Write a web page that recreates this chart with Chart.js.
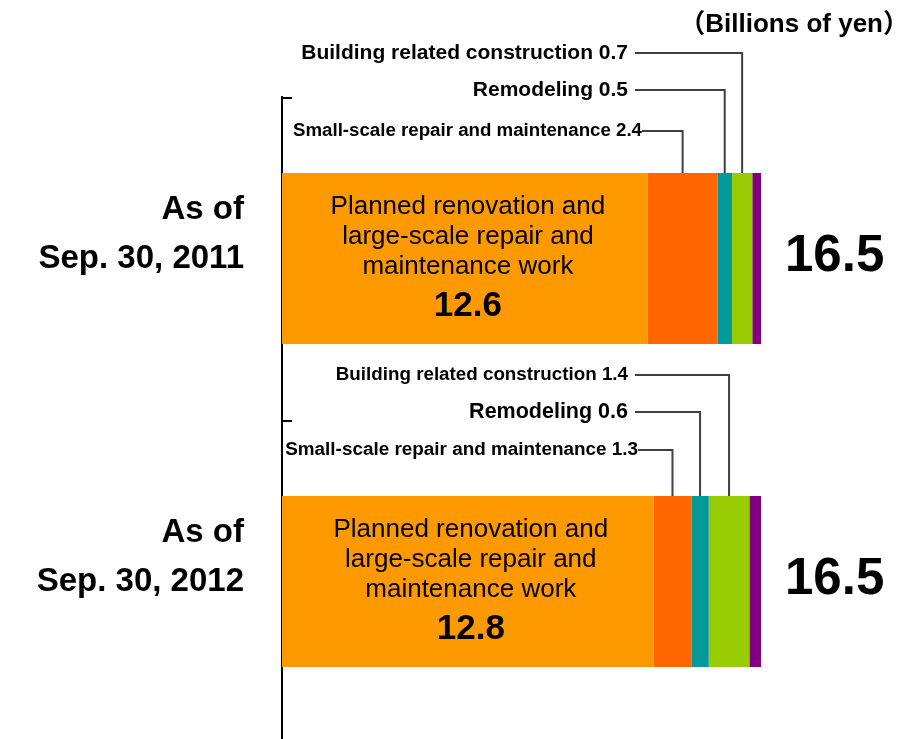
<!DOCTYPE html>
<html lang="en">
<head>
  <meta charset="UTF-8">
  <title>Order backlog by type of work</title>
  <style>
    body {
      margin: 0;
      background: #fff;
    }
    #wrap {
      position: relative;
      width: 903px;
      height: 739px;
      overflow: hidden;
    }
    .unit {
      position: absolute;
      right: -6px;
      top: 2px;
      line-height: 1;
      font: bold 26px 'Liberation Sans', 'Noto Sans CJK JP', Arial, sans-serif;
      color: #000;
      white-space: nowrap;
    }
  </style>
</head>
<body>
  <div id="wrap">
    <!-- the axis runs on past the bottom edge -->
    <canvas id="chart" width="903" height="743"></canvas>
    <div class="unit">（Billions of yen）</div>
  </div>

  <script src="https://cdn.jsdelivr.net/npm/chart.js"></script>
  <script>
    // billions of yen
    const periods = [['As of', 'Sep. 30, 2011'], ['As of', 'Sep. 30, 2012']];
    const planned = [12.6, 12.8];
    const smallScale = [2.4, 1.3];
    const remodeling = [0.5, 0.6];
    const building = [0.7, 1.4];
    const other = [0.3, 0.4];
    const totals = [16.5, 16.5];

    const FONT = "'Liberation Sans', Arial, sans-serif";

    // labels with leader lines above each bar: [text, series, offset above bar, font size, right edge, line start]
    const callouts = [
      [
        ['Building related construction 0.7', 3, 120, 21, 628, 635],
        ['Remodeling 0.5', 2, 83, 21, 628, 635],
        ['Small-scale repair and maintenance 2.4', 1, 42, 18.7, 642, 642]
      ],
      [
        ['Building related construction 1.4', 3, 121, 18.8, 628, 635],
        ['Remodeling 0.6', 2, 84, 21.5, 628, 635],
        ['Small-scale repair and maintenance 1.3', 1, 46, 18.9, 638, 638]
      ]
    ];

    const series = [planned, smallScale, remodeling, building, other];

    const annotate = {
      id: 'annotate',
      afterDatasetsDraw(chart) {
        const { ctx, chartArea, scales: { x, y } } = chart;
        ctx.save();

        // short ticks on the axis at each category boundary
        const band = y.getPixelForValue(1) - y.getPixelForValue(0);
        ctx.strokeStyle = '#000';
        ctx.lineWidth = 2;
        periods.forEach((p, i) => {
          const yb = Math.round(y.getPixelForValue(i) - band / 2) + 1;
          ctx.beginPath();
          ctx.moveTo(chartArea.left, yb);
          ctx.lineTo(chartArea.left + 10, yb);
          ctx.stroke();
        });

        periods.forEach((p, i) => {
          const bar = chart.getDatasetMeta(0).data[i].getProps(['y', 'height'], true);
          const top = bar.y - bar.height / 2;

          // text inside the planned renovation segment
          const cx = (x.getPixelForValue(0) + x.getPixelForValue(planned[i])) / 2 + 3;
          ctx.fillStyle = '#000';
          ctx.textAlign = 'center';
          ctx.textBaseline = 'middle';
          ctx.font = '26px ' + FONT;
          ['Planned renovation and', 'large-scale repair and', 'maintenance work'].forEach((t, k) => {
            ctx.fillText(t, cx, bar.y - 52 + k * 30);
          });
          ctx.font = 'bold 35px ' + FONT;
          ctx.fillText(planned[i].toFixed(1), cx, bar.y + 48);

          // total to the right of the bar
          ctx.textAlign = 'left';
          ctx.font = 'bold 51px ' + FONT;
          ctx.fillText(totals[i].toFixed(1), x.getPixelForValue(totals[i]) + 24, bar.y - 2);

          // callouts with leader lines
          callouts[i].forEach(([text, s, off, size, right, start]) => {
            let cum = 0;
            for (let k = 0; k < s; k++) cum += series[k][i];
            const mid = x.getPixelForValue(cum + series[s][i] / 2);
            const ly = top - off;
            ctx.fillStyle = '#000';
            ctx.textAlign = 'right';
            ctx.font = 'bold ' + size + 'px ' + FONT;
            ctx.fillText(text, right, ly);
            ctx.strokeStyle = '#404040';
            ctx.lineWidth = 2;
            ctx.beginPath();
            ctx.moveTo(start, ly);
            ctx.lineTo(mid, ly);
            ctx.lineTo(mid, top);
            ctx.stroke();
          });
        });
        ctx.restore();
      }
    };

    const colors = ['#FF9900', '#FF6600', '#009999', '#99CC00', '#800080'];
    const names = ['Planned renovation and large-scale repair and maintenance work',
      'Small-scale repair and maintenance', 'Remodeling', 'Building related construction', 'Other'];

    new Chart(document.getElementById('chart'), {
      type: 'bar',
      data: {
        labels: periods,
        datasets: series.map((d, i) => ({
          label: names[i],
          data: d,
          backgroundColor: colors[i],
          borderWidth: 0,
          categoryPercentage: 1,
          barPercentage: 0.53
        }))
      },
      options: {
        indexAxis: 'y',
        responsive: false,
        animation: false,
        layout: { padding: { top: 97, right: 142, bottom: 0, left: 0 } },
        plugins: {
          legend: { display: false },
          tooltip: { enabled: false }
        },
        scales: {
          x: {
            stacked: true,
            display: false,
            min: 0,
            max: 16.5
          },
          y: {
            stacked: true,
            afterFit: s => {
              s.width = 282;
              s.paddingTop = 0;
              s.paddingBottom = 0;
            },
            grid: { display: true, drawOnChartArea: false, drawTicks: false },
            border: { display: true, color: '#000', width: 2 },
            ticks: {
              color: '#000',
              padding: 38,
              labelOffset: -24,
              font: { family: FONT, size: 33, weight: 'bold', lineHeight: 1.48 }
            }
          }
        }
      },
      plugins: [annotate]
    });
  </script>
</body>
</html>
